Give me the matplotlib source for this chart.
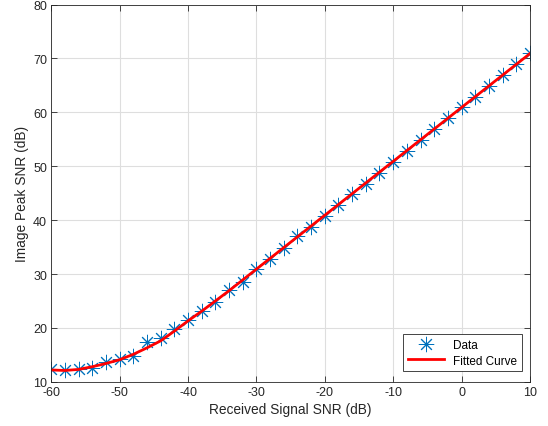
import matplotlib
matplotlib.use("Agg")
import matplotlib.pyplot as plt
import numpy as np

plt.rcParams['font.family'] = ['Liberation Sans', 'DejaVu Sans']
plt.rcParams['axes.unicode_minus'] = False

snr_in = [-60, -58, -56, -54, -52, -50, -48, -46, -44, -42, -40, -38, -36, -34,
          -32, -30, -28, -26, -24, -22, -20, -18, -16, -14, -12, -10, -8, -6,
          -4, -2, 0, 2, 4, 6, 8, 10]
psnr_data = [12.4, 12.2, 12.4, 12.5, 13.7, 14.2, 14.7, 17.4, 18.1, 19.8, 21.5,
             23.2, 24.9, 27.0, 28.6, 31.0, 32.7, 34.8, 37.0, 38.8, 40.8, 42.8,
             44.9, 46.7, 48.8, 50.8, 52.9, 54.9, 56.9, 59.0, 61.0, 62.9, 64.9,
             67.0, 69.0, 71.1]
psnr_fit = [12.2, 12.1, 12.3, 12.8, 13.4, 14.1, 15.1, 16.3, 17.6, 19.4, 21.3,
            23.1, 25.0, 26.9, 28.9, 30.9, 32.9, 34.9, 36.9, 38.9, 40.9, 42.9,
            44.9, 46.9, 48.9, 50.9, 52.9, 54.9, 56.9, 58.9, 60.9, 62.9, 64.9,
            66.9, 68.9, 70.9]

fig = plt.figure(figsize=(5.48, 4.27), dpi=100)
ax = fig.add_axes([0.0935, 0.1035, 0.8735, 0.8835])

ax.plot(snr_in, psnr_data, linestyle='none', marker=(8, 2, 0), markersize=11,
        markeredgewidth=0.7, color='#0072BD', label='Data')
ax.plot(snr_in, psnr_fit, color='red', linewidth=2, label='Fitted Curve')

ax.set_xlim(-60, 10)
ax.set_ylim(10, 80)
ax.set_xticks(np.arange(-60, 11, 10))
ax.set_yticks(np.arange(10, 81, 10))
ax.grid(True, color='#dedede', linewidth=0.8)
ax.set_axisbelow(True)
ax.tick_params(direction='in', labelsize=9, length=4, width=0.6, top=True, right=True,
               colors='#262626', pad=3)
for s in ax.spines.values():
    s.set_linewidth(0.6)
    s.set_color('#262626')

ax.set_xlabel('Received Signal SNR (dB)', fontsize=9.9, color='#262626', labelpad=3)
ax.set_ylabel('Image Peak SNR (dB)', fontsize=9.9, color='#262626', labelpad=3)

leg = ax.legend(loc='lower right', bbox_to_anchor=(0.983, 0.028), fontsize=8.5,
                fancybox=False, framealpha=1, edgecolor='#262626', borderaxespad=0,
                handlelength=3, borderpad=0.4, labelspacing=0.3)
leg.get_frame().set_linewidth(0.6)

fig.savefig('out.png', dpi=100)
